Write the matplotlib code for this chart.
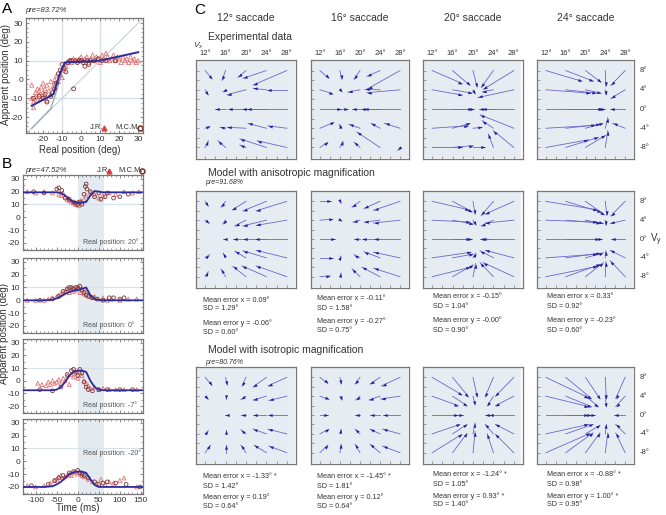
import numpy as np
import matplotlib
matplotlib.use("Agg")
import matplotlib.pyplot as plt
from matplotlib.patches import Rectangle
from matplotlib.path import Path
from matplotlib.markers import MarkerStyle
from matplotlib.transforms import Affine2D
from matplotlib.ticker import MultipleLocator

plt.rcParams['font.family'] = ['Liberation Sans', 'DejaVu Sans']
plt.rcParams['mathtext.fontset'] = 'custom'
plt.rcParams['mathtext.rm'] = 'Liberation Sans'
plt.rcParams['mathtext.it'] = 'Liberation Sans:italic'
plt.rcParams['axes.unicode_minus'] = False

W, H = 666, 515
NAN = np.nan

# ---------------- panel A data ----------------
a_jr_x = [-26, -26, -25, -25, -24, -24, -23, -23, -22, -22, -21, -21, -20, -20, -19, -19, -18, -18,
          -17, -16, -16, -15, -14, -14, -13, -12, -11, -10, -9, -8, -7, -6, -5, -4, -3, -2, -1, 0,
          1, 2, 3, 4, 5, 6, 7, 8, 9, 10, 11, 12, 13, 14, 15, 16, 17, 18, 19, 20, 21, 22, 23, 24,
          25, 26, 27, 28, 29, 30]
a_jr_y = [-3, -10, -12, -15, -7, -9, -5, -11, -6, -8, -4, -10, -2, -7, -9, -5, -3, -11,
          -6, -1, -8, -4, 0, -2, 2, -1, 3, 1, 5, 7, 9, 10, 9, 11, 10, 10, 11, 12,
          10, 11, 12, 9, 11, 13, 10, 12, 11, 9, 13, 11, 14, 12, 10, 11, 13, 10, 12, 11, 9, 12, 10, 11,
          9, 12, 10, 11, 9, 10]
a_mcm_x = [-25, -22, -20, -19, -18, -16, -15, -14, -13, -12, -11, -10, -9, -8, -7, -6, -5, -4,
           -3, -2, -1, 0, 1, 2, 3, 4, 5, 7, 9, 11, 13, 18]
a_mcm_y = [-10, -9, -10, -8, -12, -9, -7, -5, -2, 3, 5, 8, 6, 4, 9, 10, 10, -5,
           10, 9, 10, 10, 9, 7, 10, 8, 10, 10, 11, 10, 10, 10]
a_model_x = [-26, -16, -14.6, -11, -8.6, 10, 30]
a_model_y = [-14, -8.7, -7.8, 3.6, 9, 10, 14.5]
a_iso_x = [-26, -16, -12.7, -10.3, -8.6]
a_iso_y = [-26, -15.6, -5.4, 3.6, 8.3]

# ---------------- panel B data ----------------
b_real = ['Real position: 20°', 'Real position: 0°', 'Real position: -7°', 'Real position: -20°']
b_model_t = [-130, -100, -80, -60, -50, -40, -30, -20, -10, 0, 10, 20, 30, 40, 50, 60, 80, 100, 130, 155]
b1_model = [19.5, 19.5, 19.5, 19.5, 19.5, 19, 17, 14, 12, 11.5, 11.5, 12, 17, 20.5, 20, 19.5, 19.5, 19.5, 19.5, 19.5]
b2_model = [0, 0, 0, 0.5, 1.5, 3, 5, 6.5, 7.5, 8, 9, 10, 4, 1, 0.3, 0, 0, 0, 0, 0]
b3_model = [-7.5, -7.5, -7.5, -7.5, -7, -5, -1, 4, 7, 8, 8, 7, 0, -5, -7, -7.5, -7.5, -7.5, -7.5, -7.5]
b4_model = [-20, -20, -20, -19.5, -18, -16, -13, -10, -8.5, -8, -8, -9, -14, -18.5, -20, -20, -20, -20, -20, -20]

b1_jr_t = [-120, -100, -80, -60, -45, -40, -35, -30, -25, -22, -20, -15, -10, -5, 0, 2, 5, 8, 10, 15, 20, 30, 40, 50, 60, 75, 90, 110, 130, 145]
b1_jr_y = [20, 19, 20, 19, 18, 17, 19, 16, 14, 15, 13, 12, 11, 10, 12, 9, 11, 13, 12, 14, 17, 19, 18, 15, 17, 19, 18, 20, 19, 20]
b1_mcm_t = [-105, -80, -50, -45, -38, -30, -20, -10, -5, 0, 5, 10, 15, 18, 20, 22, 30, 40, 50, 55, 65, 70, 85, 100, 120]
b1_mcm_y = [20, 19, 22, 23, 21, 15, 14, 12, 11, 10, 12, 10, 18, 24, 26, 22, 20, 16, 19, 14, 16, 19, 15, 16, 18]

b2_jr_t = [-120, -100, -80, -70, -60, -50, -45, -40, -35, -30, -25, -20, -15, -10, -5, 0, 5, 10, 15, 20, 25, 30, 35, 40, 50, 60, 70, 80, 100, 120, 140]
b2_jr_y = [0, 0, 0, 1, 2, 3, 4, 5, 6, 7, 8, 6, 9, 7, 8, 10, 6, 9, 5, 7, 4, 3, 2, 3, 1, 2, 0, 1, 0, 1, 1]
b2_mcm_t = [-90, -60, -45, -35, -25, -20, -15, -10, -5, 0, 5, 10, 15, 20, 25, 35, 45, 60, 75, 85, 100, 110]
b2_mcm_y = [0, 1, 3, 7, 9, 10, 10, 9, 10, 10, 11, 8, 6, 4, 3, 2, 1, 0, 2, 2, 1, 2]

b3_jr_t = [-95, -85, -75, -70, -65, -60, -55, -50, -45, -40, -35, -30, -25, -20, -15, -10, -5, 0, 5, 10, 15, 20, 25, 30, 40, 50, 60, 75, 90, 110, 140]
b3_jr_y = [-2, -3, -4, -1, -3, 0, -2, -1, 1, -2, 2, 0, 4, -3, 5, 3, 6, 2, 7, 4, 0, -2, -4, -6, -5, -7, -6, -7, -7, -7, -7]
b3_mcm_t = [-90, -60, -40, -25, -15, -10, -5, 0, 5, 10, 15, 20, 25, 35, 50, 70, 100, 130]
b3_mcm_y = [-7, -8, -5, 5, 8, 9, 7, 4, 9, 6, -1, -5, -7, -8, -7, -7, -7, -7]

b4_jr_t = [-120, -100, -80, -65, -55, -50, -45, -40, -35, -30, -25, -20, -15, -10, -5, 0, 5, 10, 15, 25, 35, 45, 55, 65, 75, 85, 100, 110, 140]
b4_jr_y = [-19, -20, -19, -17, -15, -14, -12, -11, -13, -12, -11, -10, -11, -9, -8, -10, -9, -11, -12, -14, -16, -17, -14, -18, -16, -17, -15, -13, -20]
b4_mcm_t = [-110, -70, -55, -45, -35, -20, -10, 0, 5, 10, 15, 25, 40, 50, 60, 70, 90, 115, 148]
b4_mcm_y = [-19, -18, -15, -13, -11, -9, -8, -7, -9, -10, -11, -13, -16, -18, -17, -16, -17, -18, -20]

# ---------------- panel C data ----------------
saccades = ['12° saccade', '16° saccade', '20° saccade', '24° saccade']
grid_x = [12, 16, 20, 24, 28]
grid_y = [8, 4, 0, -4, -8]
x_labels = ['12°', '16°', '20°', '24°', '28°']
y_labels = ['8°', '4°', '0°', '-4°', '-8°']

# end points of the arrows; rows are y = 8, 4, 0, -4, -8, columns x = 12..28
exp12_x = [[13.3, 15.3, 18.4, 19.4, 21.4], [12.6, 15.5, 16.3, 21.4, 24.1], [NAN, 13.9, 16.5, 19.2, 20.2],
           [12.9, 14.9, 16.3, 20.4, 24.3], [12.6, 14.5, 18.8, 18.8, 22.2]]
exp12_y = [[6.3, 6.0, 6.6, 6.4, 5.0], [3.0, 3.6, 3.0, 4.3, 4.0], [NAN, 0, 0, 0, 0],
           [-3.6, -3.8, -3.8, -3.0, -3.5], [-6.6, -6.6, -7.5, -6.2, -6.6]]
exp16_x = [[13.7, 16.3, 18.8, 21.4, 21.5], [14.5, 16.3, 17.5, 21.0, 21.4], [16.1, 17.6, 18.4, 20.2, 20.8],
           [14.7, 15.9, 17.8, 22.2, 24.9], [13.5, 16.5, 18.8, 19.4, 27.5]]
exp16_y = [[6.4, 6.2, 6.2, 6.8, 4.2], [3.2, 3.6, 3.5, 4.1, 3.4], [0, 0, 0, 0, 0],
           [-2.8, -3.2, -3.2, -3.0, -3.0], [-6.9, -6.7, -6.9, -4.8, -8.6]]
exp20_x = [[17.9, 19.4, 20.8, 21.6, 22.0], [17.9, 19.8, 20.4, 21.8, 21.0], [19.8, 20.2, NAN, 21.2, 21.8],
           [19.0, 19.4, 21.8, 21.8, 21.4], [17.9, 20.0, 22.3, 23.0, 24.0]]
exp20_y = [[5.3, 4.9, 4.6, 4.5, 4.1], [2.9, 3.3, 3.2, 3.6, 2.4], [0, 0, NAN, 0, 0],
           [-3.5, -3.0, -3.8, -2.4, -1.2], [-8.0, -7.6, -8.0, -5.2, -4.5]]
exp24_x = [[19.2, 21.6, 23.1, 24.1, 25.1], [21.0, 22.2, 23.1, 24.1, 25.1], [23.3, 23.6, 24.0, NAN, 24.9],
           [22.0, 23.0, 23.5, 24.5, 25.5], [20.6, 22.6, 24.0, 24.5, NAN]]
exp24_y = [[5.8, 5.8, 5.6, 4.7, 4.9], [3.3, 3.3, 3.3, 3.0, 2.2], [0, 0, 0, NAN, 0],
           [-3.4, -3.2, -3.0, -1.8, -3.0], [-6.4, -5.9, -5.5, -4.5, NAN]]

aniso12_x = [[12.6, 15.1, 17.3, 19.4, 22.0], [12.8, 15.4, 17.8, 19.4, 22.0], [NAN, 15.4, 17.5, 19.5, 21.8],
             [12.8, 15.5, 17.8, 19.4, 22.0], [12.6, 15.1, 17.4, 19.2, 22.0]]
aniso12_y = [[7.0, 6.8, 6.2, 6.0, 6.0], [3.3, 3.2, 2.8, 2.8, 2.9], [NAN, 0, 0, 0, 0],
             [-3.3, -3.0, -2.6, -2.5, -2.4], [-6.9, -6.4, -5.8, -5.7, -5.7]]
aniso16_x = [[14.1, 16.2, 18.4, 20.8, 22.7], [14.5, 16.3, 18.6, 20.8, 22.7], [14.9, NAN, 18.8, 20.4, 22.7],
             [14.5, 16.2, 18.8, 20.8, 22.7], [14.0, 16.2, 18.4, 20.4, 22.7]]
aniso16_y = [[8.0, 7.6, 6.8, 6.5, 6.1], [4.2, 3.8, 3.6, 3.6, 3.4], [0, NAN, 0, 0, 0],
             [-4.0, -3.6, -3.3, -2.7, -2.8], [-7.8, -7.2, -6.3, -6.0, -6.2]]
aniso20_x = [[19.2, 19.8, 20.4, 21.6, 22.4], [19.4, 20.0, 20.5, 21.6, 22.4], [19.4, 19.8, NAN, 21.4, 21.8],
             [19.6, 20.0, 20.5, 21.4, 22.4], [19.4, 20.0, 20.5, 21.4, 22.0]]
aniso20_y = [[6.2, 5.8, 5.3, 5.0, 5.3], [3.6, 3.2, 3.0, 2.8, 3.4], [0, 0, NAN, 0, 0],
             [-2.8, -3.2, -3.0, -2.5, -2.4], [-6.0, -5.5, -5.2, -5.0, -5.0]]
aniso24_x = [[22.4, 23.2, 23.8, 24.3, 25.1], [22.4, 23.0, 23.6, 24.1, 25.0], [22.8, 23.4, NAN, NAN, 25.1],
             [22.4, 23.0, 23.6, 24.1, 25.0], [22.4, 23.0, 23.6, 24.1, 25.0]]
aniso24_y = [[6.2, 5.7, 5.2, 5.0, 4.9], [3.6, 3.4, 3.3, 2.9, 3.3], [0, 0, NAN, NAN, 0],
             [-3.2, -3.0, -2.9, -2.5, -2.4], [-5.8, -5.4, -5.0, -4.8, -4.6]]

iso12_x = [[13.3, 16.3, 19.2, 21.4, 24.3], [12.6, 16.0, 19.0, 21.4, 24.5], [NAN, 15.8, 19.0, 21.4, 24.3],
           [12.6, 16.0, 19.0, 21.4, 24.3], [13.0, 16.0, 19.0, 21.6, 24.5]]
iso12_y = [[6.3, 6.4, 6.2, 6.0, 6.2], [3.3, 3.3, 3.3, 3.2, 3.1], [NAN, 0, 0, 0, 0],
           [-3.3, -3.1, -3.1, -3.0, -3.0], [-6.4, -6.4, -6.4, -6.4, -6.6]]
iso16_x = [[13.5, 16.2, 19.0, 22.0, 24.3], [13.7, 16.3, 19.1, 21.8, 24.1], [13.5, NAN, 19.0, 22.0, 24.6],
           [13.7, 16.2, 19.0, 22.0, 24.5], [13.5, 16.2, 19.0, 22.0, 24.5]]
iso16_y = [[6.7, 6.6, 6.6, 6.6, 6.2], [3.3, 3.2, 3.2, 3.2, 3.4], [0, NAN, 0, 0, 0],
           [-3.0, -3.0, -3.0, -3.0, -3.0], [-6.4, -6.2, -6.2, -6.2, -6.6]]
iso20_x = [[17.8, 19.1, 20.8, 22.4, 24.4], [17.1, 18.8, 20.4, 22.8, 24.4], [17.1, 18.1, NAN, 22.4, 23.1],
           [17.4, 18.8, 20.4, 22.4, 24.4], [17.8, 18.8, 20.4, 22.8, 24.4]]
iso20_y = [[4.3, 3.9, 3.9, 3.9, 4.0], [2.0, 2.0, 2.2, 2.0, 2.0], [0, 0, NAN, 0, 0],
           [-2.0, -2.0, -1.7, -2.0, -2.0], [-4.1, -3.9, -3.5, -4.0, -4.1]]
iso24_x = [[20.6, 21.2, 22.9, 24.2, 26.1], [20.6, 21.2, 22.6, 24.2, 26.1], [20.6, 21.2, 21.9, NAN, 25.8],
           [20.6, 21.5, 22.9, 24.2, 26.1], [20.9, 21.5, 22.9, 24.5, 26.1]]
iso24_y = [[3.7, 3.5, 3.5, 3.5, 3.5], [1.8, 1.8, 1.8, 1.8, 1.8], [0, 0, 0, NAN, 0],
           [-2.0, -2.0, -2.2, -2.0, -2.0], [-3.9, -3.8, -3.8, -3.8, -3.8]]

aniso_stats = [["Mean error x = 0.09°", "SD = 1.29°", "Mean error y = -0.06°", "SD = 0.60°"],
               ["Mean error x = -0.11°", "SD = 1.58°", "Mean error y = -0.27°", "SD = 0.75°"],
               ["Mean error x = -0.15°", "SD = 1.04°", "Mean error y = -0.00°", "SD = 0.90°"],
               ["Mean error x = 0.33°", "SD = 0.92°", "Mean error y = -0.23°", "SD = 0.60°"]]
iso_stats = [["Mean error x = -1.33° *", "SD = 1.42°", "Mean error y = 0.19°", "SD = 0.64°"],
             ["Mean error x = -1.45° *", "SD = 1.81°", "Mean error y = 0.12°", "SD = 0.64°"],
             ["Mean error x = -1.24° *", "SD = 1.05°", "Mean error y = 0.93° *", "SD = 1.40°"],
             ["Mean error x = -0.88° *", "SD = 0.98°", "Mean error y = 1.00° *", "SD = 0.95°"]]

# ---------------- styles ----------------
NAVY = '#2c2c9c'
JR_C = '#e07575'
MCM_C = '#7e3535'
GRID_C = '#d6e1e9'
SPINE_C = '#777777'
FILL_C = '#e6ecf2'
SHAFT_C = '#6868cc'
HEAD_C = '#1f1f99'
TXT_C = '#333333'

# arrow head: a small triangle with its tip at the origin, pointing along +x
HEAD_PATH = Path([(0, 0), (-1, 0.36), (-1, -0.36), (0, 0)],
                 [Path.MOVETO, Path.LINETO, Path.LINETO, Path.CLOSEPOLY])

fig = plt.figure(figsize=(W / 100, H / 100), dpi=100)


def add_ax(x0, y0, x1, y1):
    return fig.add_axes([x0 / W, 1 - y1 / H, (x1 - x0) / W, (y1 - y0) / H])


def ftext(x, y, s, **kw):
    kw.setdefault('color', TXT_C)
    return fig.text(x / W, 1 - y / H, s, **kw)


def frame(ax):
    for sp in ax.spines.values():
        sp.set_color(SPINE_C)
        sp.set_linewidth(0.9)
    ax.tick_params(which='both', direction='in', colors=SPINE_C, labelcolor=TXT_C,
                   labelsize=6, top=True, right=True, pad=2)
    ax.tick_params(which='major', length=2.5, width=0.6)
    ax.tick_params(which='minor', length=1.5, width=0.5)


# ---------------- A ----------------
axA = add_ax(26, 18, 143, 133)
axA.set_xlim(-29, 32.5)
axA.set_ylim(-28.5, 32.7)
for v in (-10, 10):
    axA.axvline(v, color=GRID_C, lw=1, zorder=0)
    axA.axhline(v, color=GRID_C, lw=1, zorder=0)
axA.plot([-30, 33], [-30, 33], color='#c9d0d5', lw=0.8, zorder=1)
axA.plot(a_iso_x, a_iso_y, color='#9aacb8', lw=1, zorder=2)
axA.scatter(a_jr_x, a_jr_y, marker='^', facecolors='none', edgecolors=JR_C, s=9, lw=0.6, zorder=3)
axA.scatter(a_mcm_x, a_mcm_y, marker='o', facecolors='none', edgecolors=MCM_C, s=8, lw=0.6, zorder=3)
axA.plot(a_model_x, a_model_y, color=NAVY, lw=1.4, zorder=4)
axA.set_xticks([-20, -10, 0, 10, 20, 30])
axA.set_yticks([-20, -10, 0, 10, 20, 30])
axA.xaxis.set_minor_locator(MultipleLocator(2.5))
axA.yaxis.set_minor_locator(MultipleLocator(2.5))
frame(axA)
ftext(80, 150, 'Real position (deg)', fontsize=7, ha='center', va='center')
ftext(6, 75, 'Apparent position (deg)', fontsize=7, rotation=90, ha='center', va='center')
axA.text(0.55, 0.045, 'J.R.', transform=axA.transAxes, fontsize=5.5, color=TXT_C, va='center')
axA.plot([0.67], [0.045], marker='^', color='#d84040', ms=3.5, transform=axA.transAxes, clip_on=False)
axA.text(0.76, 0.045, 'M.C.M.', transform=axA.transAxes, fontsize=5.5, color=TXT_C, va='center')
axA.plot([0.975], [0.045], marker='o', mfc='none', mec=MCM_C, mew=1.2, ms=3.5,
         transform=axA.transAxes, clip_on=False)
ftext(25, 11, 'pre=83.72%', fontsize=5.5, style='italic', va='center')
ftext(2, 9, 'A', fontsize=11, va='center', color='black')

# ---------------- B ----------------
b_boxes = [(175, 250), (258, 333), (339, 413), (419, 494)]
b_models = [b1_model, b2_model, b3_model, b4_model]
b_jr = [(b1_jr_t, b1_jr_y), (b2_jr_t, b2_jr_y), (b3_jr_t, b3_jr_y), (b4_jr_t, b4_jr_y)]
b_mcm = [(b1_mcm_t, b1_mcm_y), (b2_mcm_t, b2_mcm_y), (b3_mcm_t, b3_mcm_y), (b4_mcm_t, b4_mcm_y)]
b_text_y = [0.1, 0.1, 0.1, 0.55]
axesB = []
for i, (y0, y1) in enumerate(b_boxes):
    ax = add_ax(23, y0, 143, y1)
    axesB.append(ax)
    ax.set_xlim(-130, 155)
    ax.set_ylim(-25.5, 33)
    ax.axvspan(0, 63, color='#e3eaf0', lw=0, zorder=0)
    ax.axhline(10, color=GRID_C, lw=0.9, zorder=1)
    ax.scatter(*b_jr[i], marker='^', facecolors='none', edgecolors=JR_C, s=8, lw=0.6, zorder=3)
    ax.scatter(*b_mcm[i], marker='o', facecolors='none', edgecolors=MCM_C, s=7, lw=0.6, zorder=3)
    ax.plot(b_model_t, b_models[i], color=NAVY, lw=1.3, zorder=4)
    ax.set_yticks([-20, -10, 0, 10, 20, 30])
    ax.set_xticks([-100, -50, 0, 50, 100, 150])
    ax.xaxis.set_minor_locator(MultipleLocator(10))
    ax.yaxis.set_minor_locator(MultipleLocator(5))
    frame(ax)
    if i < 3:
        ax.set_xticklabels([])
    ax.text(0.5, b_text_y[i], b_real[i], transform=ax.transAxes, fontsize=5, color='#555555', va='center')
ftext(78, 508, 'Time (ms)', fontsize=7, ha='center', va='center')
ftext(4, 333, 'Apparent position (deg)', fontsize=7, rotation=90, va='center', ha='center')
ftext(25, 170, 'pre=47.52%', fontsize=5.5, style='italic', va='center')
ftext(97, 170, 'J.R.', fontsize=5.5, va='center')
ftext(118, 170, 'M.C.M.', fontsize=5.5, va='center')
axesB[0].plot([0.72], [1.06], marker='^', color='#d84040', ms=3.5, transform=axesB[0].transAxes, clip_on=False)
axesB[0].plot([0.995], [1.06], marker='o', mfc='none', mec=MCM_C, mew=1.2, ms=3.5,
              transform=axesB[0].transAxes, clip_on=False)
ftext(2, 164, 'B', fontsize=11, va='center', color='black')

# ---------------- C ----------------
col_x = [(196, 296), (311, 409), (423, 523), (537, 634)]
row_y = [(60, 159), (191, 288), (367, 464)]
fields = [[(exp12_x, exp12_y), (exp16_x, exp16_y), (exp20_x, exp20_y), (exp24_x, exp24_y)],
          [(aniso12_x, aniso12_y), (aniso16_x, aniso16_y), (aniso20_x, aniso20_y), (aniso24_x, aniso24_y)],
          [(iso12_x, iso12_y), (iso16_x, iso16_y), (iso20_x, iso20_y), (iso24_x, iso24_y)]]
XL = (10.2, 29.8)
YL = (-10.4, 10.2)

for r, (y0, y1) in enumerate(row_y):
    for c, (x0, x1) in enumerate(col_x):
        ax = add_ax(x0, y0, x1, y1)
        ax.set_xlim(*XL)
        ax.set_ylim(*YL)
        ax.add_patch(Rectangle((0.015, 0.015), 0.97, 0.97, transform=ax.transAxes,
                               facecolor=FILL_C, edgecolor='none', zorder=0))
        ppx = (x1 - x0) / (XL[1] - XL[0])
        ppy = (y1 - y0) / (YL[1] - YL[0])
        ex_all, ey_all = fields[r][c]
        for j, gy in enumerate(grid_y):
            for k, gx in enumerate(grid_x):
                ex, ey = ex_all[j][k], ey_all[j][k]
                if np.isnan(ex):
                    continue
                ax.plot([gx, ex], [gy, ey], color=SHAFT_C, lw=0.6, zorder=2)
                ang = np.degrees(np.arctan2((ey - gy) * ppy, (ex - gx) * ppx))
                head = MarkerStyle(HEAD_PATH, transform=Affine2D().rotate_deg(ang))
                ax.plot([ex], [ey], marker=head, ms=6, color=HEAD_C, mew=0, ls='none', zorder=3)
        for sp in ax.spines.values():
            sp.set_color(SPINE_C)
            sp.set_linewidth(0.9)
        ax.set_xticks(np.arange(12, 29, 2))
        ax.set_yticks(np.arange(-8, 9, 2))
        ax.tick_params(direction='in', length=2, width=0.5, colors=SPINE_C,
                       labelbottom=False, labelleft=False)
        if r == 0:
            for gx, lab in zip(grid_x, x_labels):
                ax.text(gx, 1.03, lab, transform=ax.get_xaxis_transform(), fontsize=5.5,
                        ha='center', va='bottom', color=TXT_C)
        if c == 3:
            for gy, lab in zip(grid_y, y_labels):
                ax.text(1.06, gy, lab, transform=ax.get_yaxis_transform(), fontsize=5.5,
                        ha='left', va='center', color=TXT_C)

for c, (x0, x1) in enumerate(col_x):
    ftext((x0 + x1) / 2, 18, saccades[c], fontsize=7.5, ha='center', va='center')

stat_x = [203, 317, 433, 547]
aniso_y = [[300, 309, 323, 332], [298, 308, 321, 331], [297, 306, 320, 330], [297, 306, 320, 330]]
iso_y = [[477, 486, 497, 506], [477, 486, 497, 506], [475, 484, 496, 504], [475, 484, 496, 504]]
for c in range(4):
    for k in range(4):
        ftext(stat_x[c], aniso_y[c][k], aniso_stats[c][k], fontsize=5.2, va='center')
        ftext(stat_x[c], iso_y[c][k], iso_stats[c][k], fontsize=5.2, va='center')

ftext(208, 37, 'Experimental data', fontsize=7.5, va='center')
ftext(208, 173, 'Model with anisotropic magnification', fontsize=7.5, va='center')
ftext(208, 350, 'Model with isotropic magnification', fontsize=7.5, va='center')
ftext(205, 183, 'pre=91.68%', fontsize=5, style='italic', va='center')
ftext(205, 363, 'pre=80.76%', fontsize=5, style='italic', va='center')
ftext(193, 46, r'$V_x$', fontsize=6, va='center')
ftext(650, 240, r'$\mathrm{V}_\mathrm{y}$', fontsize=7, va='center')
ftext(194, 10, 'C', fontsize=11, va='center', color='black')

fig.savefig('out.png', dpi=100)
